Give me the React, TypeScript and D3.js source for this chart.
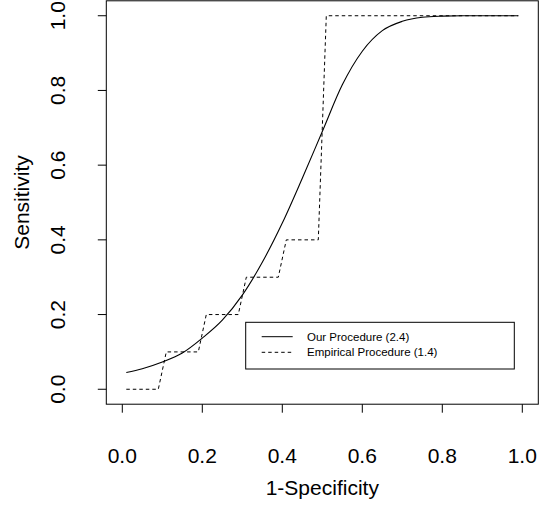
import React, { useEffect, useRef } from "react";
import * as d3 from "d3";

// ROC curves: fitted (smooth) and empirical (step)
const ourFpr = [0.01, 0.05, 0.1, 0.15, 0.2, 0.25, 0.3, 0.35, 0.4, 0.45, 0.5, 0.55, 0.6, 0.65, 0.7, 0.75, 0.8, 0.85, 0.9, 0.95, 0.99];
const ourTpr = [0.045, 0.055, 0.073, 0.097, 0.137, 0.185, 0.252, 0.34, 0.445, 0.565, 0.69, 0.815, 0.905, 0.96, 0.985, 0.996, 0.999, 1.0, 1.0, 1.0, 1.0];

const empFpr = [0.01, 0.09, 0.11, 0.19, 0.21, 0.29, 0.31, 0.39, 0.41, 0.49, 0.51, 0.99];
const empTpr = [0.0, 0.0, 0.1, 0.1, 0.2, 0.2, 0.3, 0.3, 0.4, 0.4, 1.0, 1.0];

const ticks = [0, 0.2, 0.4, 0.6, 0.8, 1.0];
const legendLabels = ["Our Procedure (2.4)", "Empirical Procedure (1.4)"];

const width = 539;
const height = 508;

export default function App() {
  const ref = useRef<SVGSVGElement>(null);

  useEffect(() => {
    const svg = d3.select(ref.current);
    svg.selectAll("*").remove();
    const font = "'Liberation Sans', Arial, sans-serif";

    const x = d3.scaleLinear().domain([-0.04, 1.04]).range([106.3, 538.3]);
    const y = d3.scaleLinear().domain([-0.04, 1.04]).range([404.2, 0.8]);

    // box
    svg.append("rect")
      .attr("x", x(-0.04)).attr("y", y(1.04))
      .attr("width", x(1.04) - x(-0.04)).attr("height", y(-0.04) - y(1.04))
      .attr("fill", "none").attr("stroke", "black").attr("stroke-width", 1);

    // x axis
    const gx = svg.append("g");
    ticks.forEach(t => {
      gx.append("line")
        .attr("x1", x(t)).attr("x2", x(t))
        .attr("y1", y(-0.04)).attr("y2", y(-0.04) + 8.5)
        .attr("stroke", "black");
      gx.append("text")
        .attr("x", x(t)).attr("y", 463)
        .attr("text-anchor", "middle")
        .attr("font-family", font).attr("font-size", 21)
        .text(d3.format(".1f")(t));
    });

    // y axis
    const gy = svg.append("g");
    ticks.forEach(t => {
      gy.append("line")
        .attr("x1", x(-0.04) - 8.5).attr("x2", x(-0.04))
        .attr("y1", y(t)).attr("y2", y(t))
        .attr("stroke", "black");
      gy.append("text")
        .attr("transform", `translate(65, ${y(t)}) rotate(-90)`)
        .attr("text-anchor", "middle")
        .attr("font-family", font).attr("font-size", 21)
        .text(d3.format(".1f")(t));
    });

    // axis titles
    svg.append("text")
      .attr("x", (x(-0.04) + x(1.04)) / 2).attr("y", 495)
      .attr("text-anchor", "middle")
      .attr("font-family", font).attr("font-size", 21)
      .text("1-Specificity");
    svg.append("text")
      .attr("transform", `translate(29, ${(y(-0.04) + y(1.04)) / 2}) rotate(-90)`)
      .attr("text-anchor", "middle")
      .attr("font-family", font).attr("font-size", 21)
      .text("Sensitivity");

    // curves
    const smooth = d3.line<number>()
      .x((d, i) => x(ourFpr[i]))
      .y(d => y(d))
      .curve(d3.curveMonotoneX);
    svg.append("path")
      .attr("d", smooth(ourTpr))
      .attr("fill", "none").attr("stroke", "black").attr("stroke-width", 1.1);

    const step = d3.line<number>()
      .x((d, i) => x(empFpr[i]))
      .y(d => y(d));
    svg.append("path")
      .attr("d", step(empTpr))
      .attr("fill", "none").attr("stroke", "black").attr("stroke-width", 1)
      .attr("stroke-dasharray", "3.5,3");

    // legend
    const lg = svg.append("g");
    lg.append("rect")
      .attr("x", 245.7).attr("y", 322.3)
      .attr("width", 268.6).attr("height", 46.7)
      .attr("fill", "white").attr("stroke", "black");
    legendLabels.forEach((lab, i) => {
      const ly = 336.7 + i * 15.6;
      lg.append("line")
        .attr("x1", 261.7).attr("x2", 292.7)
        .attr("y1", ly).attr("y2", ly)
        .attr("stroke", "black")
        .attr("stroke-dasharray", i === 1 ? "3.5,3" : null);
      lg.append("text")
        .attr("x", 307).attr("y", ly + 4)
        .attr("font-family", font).attr("font-size", 11.5)
        .text(lab);
    });
  }, []);

  return (
    <svg ref={ref} width={width} height={height}
      style={{ position: "absolute", left: 0, top: 0, background: "white" }} />
  );
}
